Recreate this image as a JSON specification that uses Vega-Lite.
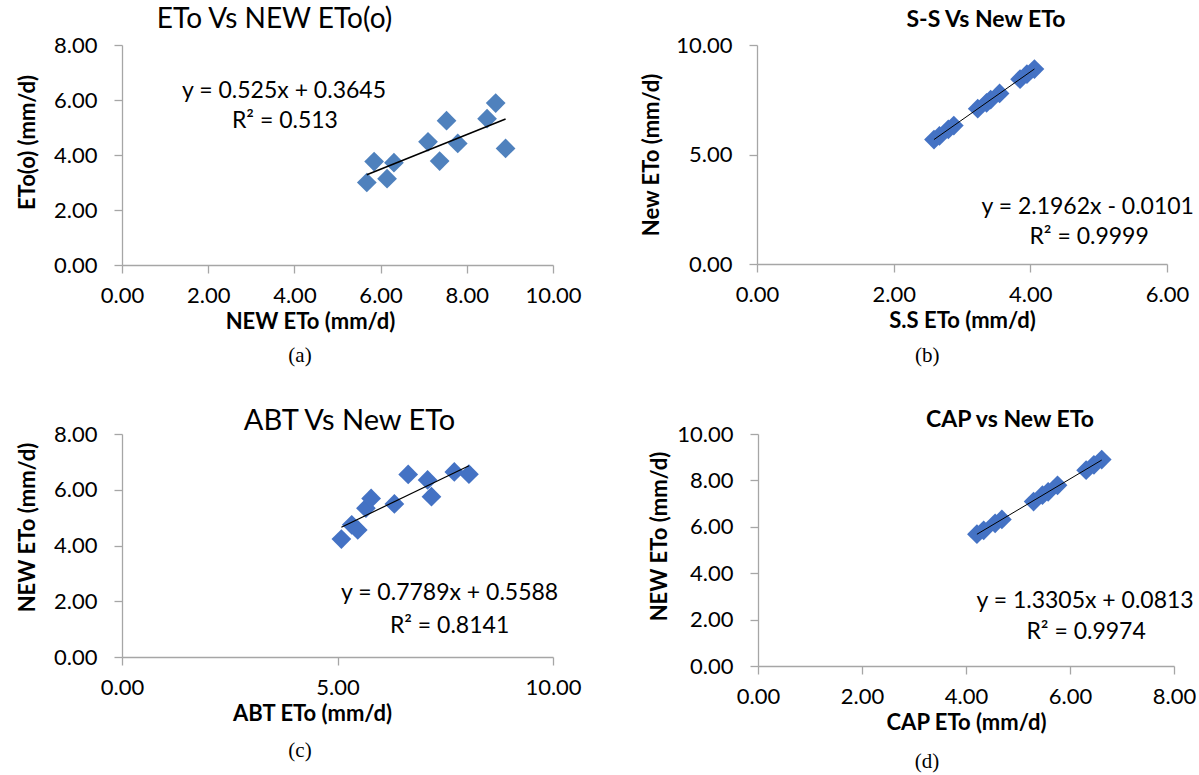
{
  "$schema": "https://vega.github.io/schema/vega-lite/v6.json",
  "background": "white",
  "padding": {"left": 16, "top": 6, "right": 0, "bottom": 0},
  "config": {
    "view": {"stroke": null},
    "font": "Lato",
    "axis": {
      "grid": false,
      "domainColor": "#A6A6A6",
      "tickColor": "#A6A6A6",
      "domainWidth": 1.3,
      "tickWidth": 1.3,
      "tickSize": 8,
      "labelFont": "Lato",
      "labelFontSize": 22,
      "labelColor": "black",
      "titleFont": "Lato",
      "titleFontSize": 22,
      "titleFontWeight": "bold",
      "titleColor": "black",
      "format": ".2f"
    },
    "axisX": {"labelPadding": 12, "titlePadding": 5, "labelFlush": false, "labelOverlap": false},
    "axisY": {"labelPadding": 17, "labelOverlap": false},
    "title": {"font": "Lato", "color": "black", "anchor": "middle", "frame": "group"},
    "text": {"font": "Lato", "fontSize": 23, "color": "black", "align": "center", "baseline": "middle"}
  },
  "datasets": {
    "a": [
      {"new_eto": 5.68, "eto_o": 3.00},
      {"new_eto": 5.85, "eto_o": 3.76},
      {"new_eto": 6.15, "eto_o": 3.14},
      {"new_eto": 6.31, "eto_o": 3.72},
      {"new_eto": 7.10, "eto_o": 4.48},
      {"new_eto": 7.37, "eto_o": 3.78},
      {"new_eto": 7.53, "eto_o": 5.25},
      {"new_eto": 7.79, "eto_o": 4.42},
      {"new_eto": 8.47, "eto_o": 5.32},
      {"new_eto": 8.67, "eto_o": 5.89},
      {"new_eto": 8.90, "eto_o": 4.24}
    ],
    "b": [
      {"ss": 2.59, "new_eto": 5.68},
      {"ss": 2.67, "new_eto": 5.85},
      {"ss": 2.80, "new_eto": 6.15},
      {"ss": 2.88, "new_eto": 6.32},
      {"ss": 3.23, "new_eto": 7.09},
      {"ss": 3.36, "new_eto": 7.36},
      {"ss": 3.42, "new_eto": 7.51},
      {"ss": 3.55, "new_eto": 7.79},
      {"ss": 3.85, "new_eto": 8.44},
      {"ss": 3.95, "new_eto": 8.67},
      {"ss": 4.06, "new_eto": 8.90}
    ],
    "c": [
      {"abt": 5.09, "new_eto": 4.23},
      {"abt": 5.33, "new_eto": 4.74},
      {"abt": 5.47, "new_eto": 4.56},
      {"abt": 5.66, "new_eto": 5.34},
      {"abt": 5.78, "new_eto": 5.69},
      {"abt": 6.32, "new_eto": 5.49},
      {"abt": 6.64, "new_eto": 6.55},
      {"abt": 7.09, "new_eto": 6.35},
      {"abt": 7.18, "new_eto": 5.75},
      {"abt": 7.71, "new_eto": 6.64},
      {"abt": 8.05, "new_eto": 6.56}
    ],
    "d": [
      {"cap": 4.21, "new_eto": 5.68},
      {"cap": 4.34, "new_eto": 5.85},
      {"cap": 4.56, "new_eto": 6.15},
      {"cap": 4.69, "new_eto": 6.32},
      {"cap": 5.30, "new_eto": 7.09},
      {"cap": 5.47, "new_eto": 7.36},
      {"cap": 5.58, "new_eto": 7.51},
      {"cap": 5.76, "new_eto": 7.79},
      {"cap": 6.31, "new_eto": 8.44},
      {"cap": 6.46, "new_eto": 8.67},
      {"cap": 6.61, "new_eto": 8.90}
    ]
  },
  "bounds": "flush",
  "spacing": 389,
  "vconcat": [
    {
      "bounds": "flush",
      "spacing": 204,
      "hconcat": [
        {
          "width": 431,
          "height": 220,
          "title": {"text": "ETo Vs NEW ETo(o)", "fontSize": 28, "fontWeight": "normal", "dx": -63, "offset": 0},
          "data": {"name": "a"},
          "layer": [
            {
              "mark": {"type": "point", "shape": "diamond", "filled": true, "size": 390, "color": "#4F81BD", "opacity": 1},
              "encoding": {
                "x": {"field": "new_eto", "type": "quantitative", "scale": {"domain": [0, 10], "nice": false},
                      "axis": {"values": [0, 2, 4, 6, 8, 10], "title": "NEW ETo (mm/d)", "titleX": 188}},
                "y": {"field": "eto_o", "type": "quantitative", "scale": {"domain": [0, 8], "nice": false},
                      "axis": {"values": [0, 2, 4, 6, 8], "title": "ETo(o) (mm/d)", "titleY": 97, "titlePadding": 14}}
              }
            },
            {
              "transform": [{"regression": "eto_o", "on": "new_eto"}],
              "mark": {"type": "line", "color": "black", "strokeWidth": 1.6},
              "encoding": {
                "x": {"field": "new_eto", "type": "quantitative"},
                "y": {"field": "eto_o", "type": "quantitative"}
              }
            },
            {
              "data": {"values": [{}]},
              "mark": {"type": "text"},
              "encoding": {"x": {"datum": 3.76}, "y": {"datum": 6.34}, "text": {"value": "y = 0.525x + 0.3645"}}
            },
            {
              "data": {"values": [{}]},
              "mark": {"type": "text"},
              "encoding": {"x": {"datum": 3.78}, "y": {"datum": 5.24}, "text": {"value": "R² = 0.513"}}
            },
            {
              "data": {"values": [{}]},
              "mark": {"type": "text", "font": "Liberation Serif", "fontSize": 21},
              "encoding": {"x": {"datum": 4.13}, "y": {"datum": -3.31}, "text": {"value": "(a)"}}
            }
          ]
        },
        {
          "width": 410,
          "height": 219,
          "title": {"text": "S-S Vs New ETo", "fontSize": 23, "fontWeight": "bold", "dx": 24, "offset": 2},
          "data": {"name": "b"},
          "layer": [
            {
              "mark": {"type": "point", "shape": "diamond", "filled": true, "size": 390, "color": "#4472C4", "opacity": 1},
              "encoding": {
                "x": {"field": "ss", "type": "quantitative", "scale": {"domain": [0, 6], "nice": false},
                      "axis": {"values": [0, 2, 4, 6], "title": "S.S ETo (mm/d)"}},
                "y": {"field": "new_eto", "type": "quantitative", "scale": {"domain": [0, 10], "nice": false},
                      "axis": {"values": [0, 5, 10], "title": "New  ETo (mm/d)", "titlePadding": 12}}
              }
            },
            {
              "transform": [{"regression": "new_eto", "on": "ss"}],
              "mark": {"type": "line", "color": "black", "strokeWidth": 1},
              "encoding": {
                "x": {"field": "ss", "type": "quantitative"},
                "y": {"field": "new_eto", "type": "quantitative"}
              }
            },
            {
              "data": {"values": [{}]},
              "mark": {"type": "text"},
              "encoding": {"x": {"datum": 4.84}, "y": {"datum": 2.6}, "text": {"value": "y = 2.1962x - 0.0101"}}
            },
            {
              "data": {"values": [{}]},
              "mark": {"type": "text"},
              "encoding": {"x": {"datum": 4.86}, "y": {"datum": 1.23}, "text": {"value": "R² = 0.9999"}}
            },
            {
              "data": {"values": [{}]},
              "mark": {"type": "text", "font": "Liberation Serif", "fontSize": 21},
              "encoding": {"x": {"datum": 2.49}, "y": {"datum": -4.2}, "text": {"value": "(b)"}}
            }
          ]
        }
      ]
    },
    {
      "bounds": "flush",
      "spacing": 205,
      "hconcat": [
        {
          "width": 431,
          "height": 223,
          "title": {"text": "ABT Vs New ETo", "fontSize": 29, "fontWeight": "normal", "dx": 12, "offset": -13},
          "data": {"name": "c"},
          "layer": [
            {
              "mark": {"type": "point", "shape": "diamond", "filled": true, "size": 390, "color": "#4472C4", "opacity": 1},
              "encoding": {
                "x": {"field": "abt", "type": "quantitative", "scale": {"domain": [0, 10], "nice": false},
                      "axis": {"values": [0, 5, 10], "title": "ABT ETo (mm/d)", "titleX": 190}},
                "y": {"field": "new_eto", "type": "quantitative", "scale": {"domain": [0, 8], "nice": false},
                      "axis": {"values": [0, 2, 4, 6, 8], "title": "NEW ETo (mm/d)", "titleY": 93, "titlePadding": 14}}
              }
            },
            {
              "transform": [{"regression": "new_eto", "on": "abt"}],
              "mark": {"type": "line", "color": "black", "strokeWidth": 1.2},
              "encoding": {
                "x": {"field": "abt", "type": "quantitative"},
                "y": {"field": "new_eto", "type": "quantitative"}
              }
            },
            {
              "data": {"values": [{}]},
              "mark": {"type": "text"},
              "encoding": {"x": {"datum": 7.6}, "y": {"datum": 2.3}, "text": {"value": "y = 0.7789x + 0.5588"}}
            },
            {
              "data": {"values": [{}]},
              "mark": {"type": "text"},
              "encoding": {"x": {"datum": 7.6}, "y": {"datum": 1.12}, "text": {"value": "R² = 0.8141"}}
            },
            {
              "data": {"values": [{}]},
              "mark": {"type": "text", "font": "Liberation Serif", "fontSize": 21},
              "encoding": {"x": {"datum": 4.13}, "y": {"datum": -3.36}, "text": {"value": "(c)"}}
            }
          ]
        },
        {
          "width": 416,
          "height": 232,
          "title": {"text": "CAP vs New ETo", "fontSize": 23, "fontWeight": "bold", "dx": 44, "offset": -9},
          "data": {"name": "d"},
          "layer": [
            {
              "mark": {"type": "point", "shape": "diamond", "filled": true, "size": 390, "color": "#4472C4", "opacity": 1},
              "encoding": {
                "x": {"field": "cap", "type": "quantitative", "scale": {"domain": [0, 8], "nice": false},
                      "axis": {"values": [0, 2, 4, 6, 8], "title": "CAP ETo (mm/d)"}},
                "y": {"field": "new_eto", "type": "quantitative", "scale": {"domain": [0, 10], "nice": false},
                      "axis": {"values": [0, 2, 4, 6, 8, 10], "title": "NEW ETo (mm/d)", "titleY": 102, "titlePadding": 5}}
              }
            },
            {
              "transform": [{"regression": "new_eto", "on": "cap"}],
              "mark": {"type": "line", "color": "black", "strokeWidth": 1},
              "encoding": {
                "x": {"field": "cap", "type": "quantitative"},
                "y": {"field": "new_eto", "type": "quantitative"}
              }
            },
            {
              "data": {"values": [{}]},
              "mark": {"type": "text"},
              "encoding": {"x": {"datum": 6.29}, "y": {"datum": 2.81}, "text": {"value": "y = 1.3305x + 0.0813"}}
            },
            {
              "data": {"values": [{}]},
              "mark": {"type": "text"},
              "encoding": {"x": {"datum": 6.31}, "y": {"datum": 1.48}, "text": {"value": "R² = 0.9974"}}
            },
            {
              "data": {"values": [{}]},
              "mark": {"type": "text", "font": "Liberation Serif", "fontSize": 21},
              "encoding": {"x": {"datum": 3.25}, "y": {"datum": -4.14}, "text": {"value": "(d)"}}
            }
          ]
        }
      ]
    }
  ]
}
